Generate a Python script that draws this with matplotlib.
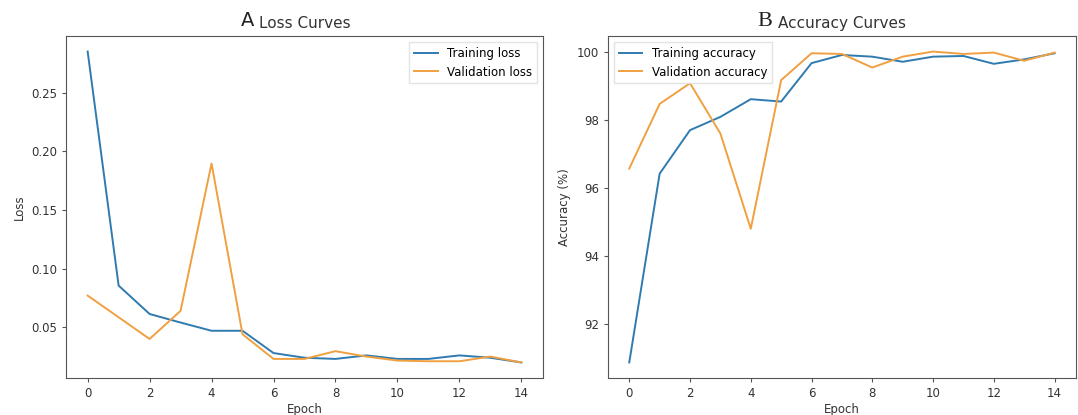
import matplotlib
matplotlib.use('Agg')
import matplotlib.pyplot as plt

epochs = list(range(15))
train_loss = [0.285, 0.0855, 0.0613, 0.054, 0.047, 0.047, 0.028, 0.024, 0.023, 0.026, 0.023, 0.023, 0.026, 0.024, 0.020]
val_loss = [0.077, 0.0585, 0.040, 0.064, 0.1896, 0.044, 0.023, 0.023, 0.0296, 0.025, 0.0216, 0.021, 0.021, 0.025, 0.020]
train_acc = [90.88, 96.43, 97.71, 98.10, 98.62, 98.55, 99.68, 99.92, 99.87, 99.72, 99.87, 99.89, 99.66, 99.79, 99.97]
val_acc = [96.58, 98.48, 99.09, 97.61, 94.81, 99.18, 99.97, 99.95, 99.55, 99.87, 100.02, 99.95, 99.99, 99.75, 99.99]

plt.rcParams['font.family'] = ['DejaVu Sans']
plt.rcParams['axes.edgecolor'] = '#555555'
plt.rcParams['xtick.color'] = '#555555'
plt.rcParams['ytick.color'] = '#555555'
plt.rcParams['xtick.labelcolor'] = '#333333'
plt.rcParams['ytick.labelcolor'] = '#333333'

fig = plt.figure(figsize=(10.78, 4.15), dpi=100)
ax1 = fig.add_axes([0.0612, 0.0892, 0.4425, 0.824])
ax2 = fig.add_axes([0.564, 0.0892, 0.434, 0.824])

blue = '#2f7bb0'
orange = '#f0a040'

# loss
ax1.plot(epochs, train_loss, color=blue, lw=1.4, label='Training loss')
ax1.plot(epochs, val_loss, color=orange, lw=1.4, label='Validation loss')
ax1.set_xlabel('Epoch', fontsize=8.5, color='#333333', labelpad=2)
ax1.set_ylabel('Loss', fontsize=8.5, color='#333333', labelpad=4)
ax1.set_xticks(range(0, 15, 2))
ax1.set_yticks([0.05, 0.10, 0.15, 0.20, 0.25])
ax1.tick_params(labelsize=8.5, length=3)
ax1.legend(loc='upper right', fontsize=8.5, framealpha=0.8, edgecolor='#dddddd', fancybox=False)
ax1.set_title('Loss Curves', fontsize=11, color='#333333', pad=6)
ax1.text(0.395, 1.018, 'A', transform=ax1.transAxes, fontsize=14, ha='right', va='bottom', color='#222222')

# accuracy
ax2.plot(epochs, train_acc, color=blue, lw=1.4, label='Training accuracy')
ax2.plot(epochs, val_acc, color=orange, lw=1.4, label='Validation accuracy')
ax2.set_xlabel('Epoch', fontsize=8.5, color='#333333', labelpad=2)
ax2.set_ylabel('Accuracy (%)', fontsize=8.5, color='#333333', labelpad=4)
ax2.set_xticks(range(0, 15, 2))
ax2.set_yticks([92, 94, 96, 98, 100])
ax2.tick_params(labelsize=8.5, length=3)
ax2.legend(loc='upper left', fontsize=8.5, framealpha=0.8, edgecolor='#dddddd', fancybox=False)
ax2.set_title('Accuracy Curves', fontsize=11, color='#333333', pad=6)
ax2.text(0.352, 1.015, 'B', transform=ax2.transAxes, fontsize=16, ha='right', va='bottom',
         color='#222222', family='Liberation Serif')

fig.savefig('out.png', dpi=100)
